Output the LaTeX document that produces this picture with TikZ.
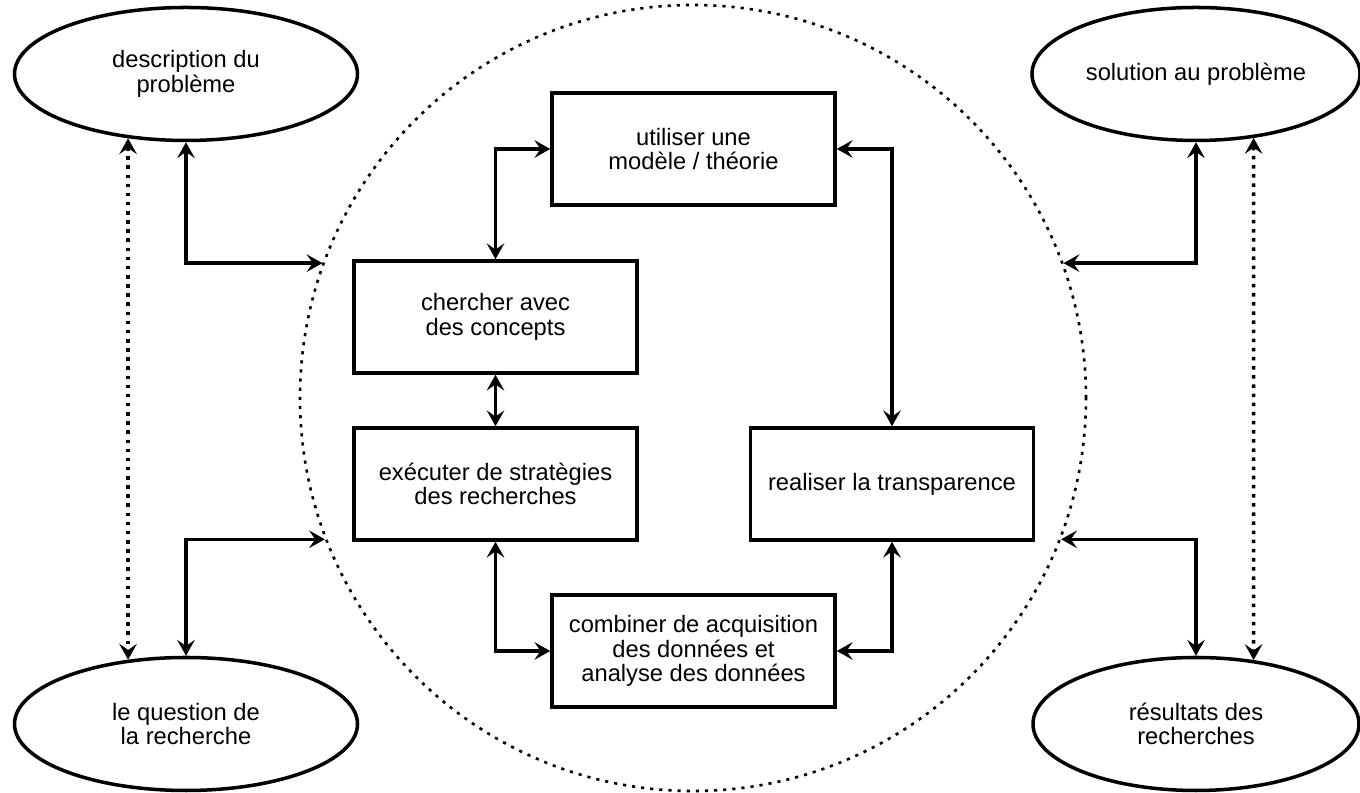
\documentclass[tikz,border=0pt]{standalone}
\usepackage{fontspec}
\setmainfont{Liberation Sans}
\usetikzlibrary{shapes.geometric, arrows.meta}

\begin{document}
\begin{tikzpicture}[every node/.style={font=\fontsize{13.5}{14}\selectfont}, align=center,
        boite/.style={draw, line width=2pt, minimum width=5.66cm, minimum height=2.24cm},
        ovale/.style={draw, ellipse, line width=2pt, minimum width=6.86cm, minimum height=2.66cm},
        fleche/.style={{Stealth[length=9pt, width=10pt, inset=3.5pt]}-{Stealth[length=9pt, width=10pt, inset=3.5pt]}, line width=2pt},
        pointille/.style={fleche, dash pattern=on 2pt off 3.2pt}]
        \useasboundingbox (0, 0) rectangle (27.2, 15.86);

        % Big dotted circle
        \node[circle, draw, line width=1.5pt, dash pattern=on 1.8pt off 3.4pt, minimum size=15.72cm, inner sep=0pt] (cercle) at (13.86, 7.9) {};

        % Ellipses on the left
        \node[ovale] (description) at (3.72, 14.38) {description du\\probl\`eme};
        \node[ovale] (question) at (3.72, 1.38) {le question de\\la recherche};

        % Ellipses on the right
        \node[ovale, minimum width=6.52cm] (solution) at (23.92, 14.38) {solution au probl\`eme};
        \node[ovale, minimum width=6.52cm] (resultats) at (23.92, 1.38) {r\'esultats des\\recherches};

        % Boxes inside the circle
        \node[boite] (modele) at (13.87, 12.88) {utiliser une\\mod\`ele / th\'eorie};
        \node[boite] (concepts) at (9.91, 9.52) {chercher avec\\des concepts};
        \node[boite] (strategies) at (9.91, 6.18) {ex\'ecuter de strat\`egies\\des recherches};
        \node[boite] (transparence) at (17.84, 6.18) {realiser la transparence};
        \node[boite] (donnees) at (13.87, 2.84) {combiner de acquisition\\des donn\'ees et\\analyse des donn\'ees};

        % Arrows inside the circle
        \draw[fleche] (modele.west) -| (concepts.north);
        \draw[fleche] (modele.east) -| (transparence.north);
        \draw[fleche] (concepts.south) -- (strategies.north);
        \draw[fleche] (strategies.south) |- (donnees.west);
        \draw[fleche] (transparence.south) |- (donnees.east);

        % Arrows to the circle
        \draw[fleche] (description.south) |- (cercle.160);
        \draw[fleche] (question.north) |- (cercle.201);
        \draw[fleche] (solution.south) |- (cercle.20);
        \draw[fleche] (resultats.north) |- (cercle.339);

        % Dotted arrows
        \draw[pointille] (description.228) -- (question.132);
        \draw[pointille] (solution.312) -- (resultats.48);
\end{tikzpicture}
\end{document}
